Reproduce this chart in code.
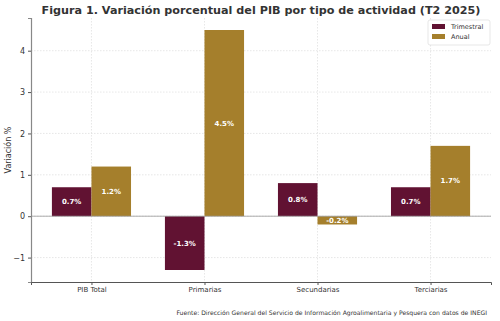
<!DOCTYPE html>
<html>
<head>
<meta charset="utf-8">
<script src="https://cdn.jsdelivr.net/npm/d3@7"></script>
<style>
  body { margin: 0; background: #fff; }
  svg { display: block; font-family: 'DejaVu Sans', sans-serif; }
</style>
</head>
<body>
<script>
  // Data
  const categories = ['PIB Total', 'Primarias', 'Secundarias', 'Terciarias'];
  const trimestral = [0.7, -1.3, 0.8, 0.7];
  const anual = [1.2, 4.5, -0.2, 1.7];
  const seriesNames = ['Trimestral', 'Anual'];
  const yTicks = [-1, 0, 1, 2, 3, 4];

  const WIDTH = 500;
  const HEIGHT = 321;
  const margin = { top: 18, right: 9, bottom: 39, left: 31 };
  const colors = ['#611232', '#A57F2C'];
  const barW = 0.35;

  const svg = d3
    .select('body')
    .append('svg')
    .attr('width', WIDTH)
    .attr('height', HEIGHT);

  const x = d3
    .scaleLinear()
    .domain([-0.535, 3.535])
    .range([margin.left, WIDTH - margin.right]);
  const y = d3
    .scaleLinear()
    .domain([-1.59, 4.79])
    .range([HEIGHT - margin.bottom, margin.top]);

  // grid
  svg
    .append('g')
    .selectAll('line.h')
    .data(yTicks)
    .join('line')
    .attr('x1', margin.left)
    .attr('x2', WIDTH - margin.right)
    .attr('y1', (d) => y(d))
    .attr('y2', (d) => y(d))
    .attr('stroke', '#ddd')
    .attr('stroke-width', 0.7)
    .attr('stroke-dasharray', '1.5,1.5');
  svg
    .append('g')
    .selectAll('line.v')
    .data(categories)
    .join('line')
    .attr('x1', (d, i) => x(i))
    .attr('x2', (d, i) => x(i))
    .attr('y1', margin.top)
    .attr('y2', HEIGHT - margin.bottom)
    .attr('stroke', '#ddd')
    .attr('stroke-width', 0.7)
    .attr('stroke-dasharray', '1.5,1.5');

  // bars
  const series = [trimestral, anual];
  series.forEach((vals, s) => {
    const offset = s === 0 ? -barW / 2 : barW / 2;
    const g = svg.append('g');
    g.selectAll('rect')
      .data(vals)
      .join('rect')
      .attr('x', (d, i) => x(i + offset - barW / 2))
      .attr('width', x(barW) - x(0))
      .attr('y', (d) => y(Math.max(0, d)))
      .attr('height', (d) => Math.abs(y(d) - y(0)))
      .attr('fill', colors[s]);
    g.selectAll('text')
      .data(vals)
      .join('text')
      .attr('x', (d, i) => x(i + offset))
      .attr('y', (d) => y(d / 2))
      .attr('dy', '0.35em')
      .attr('text-anchor', 'middle')
      .attr('fill', '#fff')
      .attr('font-size', 7)
      .attr('font-weight', 'bold')
      .text((d) => d.toFixed(1) + '%');
  });

  // zero line
  svg
    .append('line')
    .attr('x1', margin.left)
    .attr('x2', WIDTH - margin.right)
    .attr('y1', y(0))
    .attr('y2', y(0))
    .attr('stroke', '#999')
    .attr('stroke-width', 0.8);

  // axes
  const yAxis = svg
    .append('g')
    .attr('transform', `translate(${margin.left},0)`)
    .call(
      d3
        .axisLeft(y)
        .tickValues(yTicks)
        .tickFormat((d) => (d < 0 ? '\u2212' + Math.abs(d) : d))
        .tickSize(3)
        .tickPadding(3)
    );
  yAxis.select('.domain').attr('stroke', '#888').attr('stroke-width', 1.2);
  yAxis.selectAll('.tick line').attr('stroke', '#555');
  yAxis.selectAll('text').attr('font-size', 8).attr('fill', '#333').attr('font-family', 'DejaVu Sans');

  const xAxis = svg
    .append('g')
    .attr('transform', `translate(0,${HEIGHT - margin.bottom})`)
    .call(
      d3
        .axisBottom(x)
        .tickValues(d3.range(categories.length))
        .tickFormat((d) => categories[d])
        .tickSize(3)
        .tickPadding(2)
    );
  xAxis.select('.domain').attr('stroke', '#555').attr('stroke-width', 1);
  xAxis.selectAll('.tick line').attr('stroke', '#555');
  xAxis.selectAll('text').attr('font-size', 7).attr('fill', '#333').attr('font-family', 'DejaVu Sans');

  // y label
  svg
    .append('text')
    .attr('transform', `translate(11,${(margin.top + HEIGHT - margin.bottom) / 2}) rotate(-90)`)
    .attr('text-anchor', 'middle')
    .attr('font-size', 8)
    .attr('fill', '#333')
    .text('Variación %');

  // title
  svg
    .append('text')
    .attr('x', 261)
    .attr('y', 14)
    .attr('text-anchor', 'middle')
    .attr('font-size', 11.2)
    .attr('font-weight', 'bold')
    .attr('fill', '#333')
    .text('Figura 1. Variación porcentual del PIB por tipo de actividad (T2 2025)');

  // legend
  const legend = svg.append('g').attr('transform', 'translate(428,20)');
  legend
    .append('rect')
    .attr('width', 62)
    .attr('height', 25)
    .attr('rx', 2)
    .attr('fill', '#fff')
    .attr('stroke', '#ddd')
    .attr('stroke-width', 0.7);
  seriesNames.forEach((name, i) => {
    legend
      .append('rect')
      .attr('x', 4)
      .attr('y', 4 + i * 10)
      .attr('width', 13)
      .attr('height', 5)
      .attr('fill', colors[i]);
    legend
      .append('text')
      .attr('x', 23)
      .attr('y', 6.5 + i * 10)
      .attr('dy', '0.35em')
      .attr('font-size', 6.5)
      .attr('fill', '#333')
      .text(name);
  });

  // source
  svg
    .append('text')
    .attr('x', 487)
    .attr('y', 315)
    .attr('text-anchor', 'end')
    .attr('font-size', 6.1)
    .attr('fill', '#333')
    .text('Fuente: Dirección General del Servicio de Información Agroalimentaria y Pesquera con datos de INEGI');
</script>
</body>
</html>
